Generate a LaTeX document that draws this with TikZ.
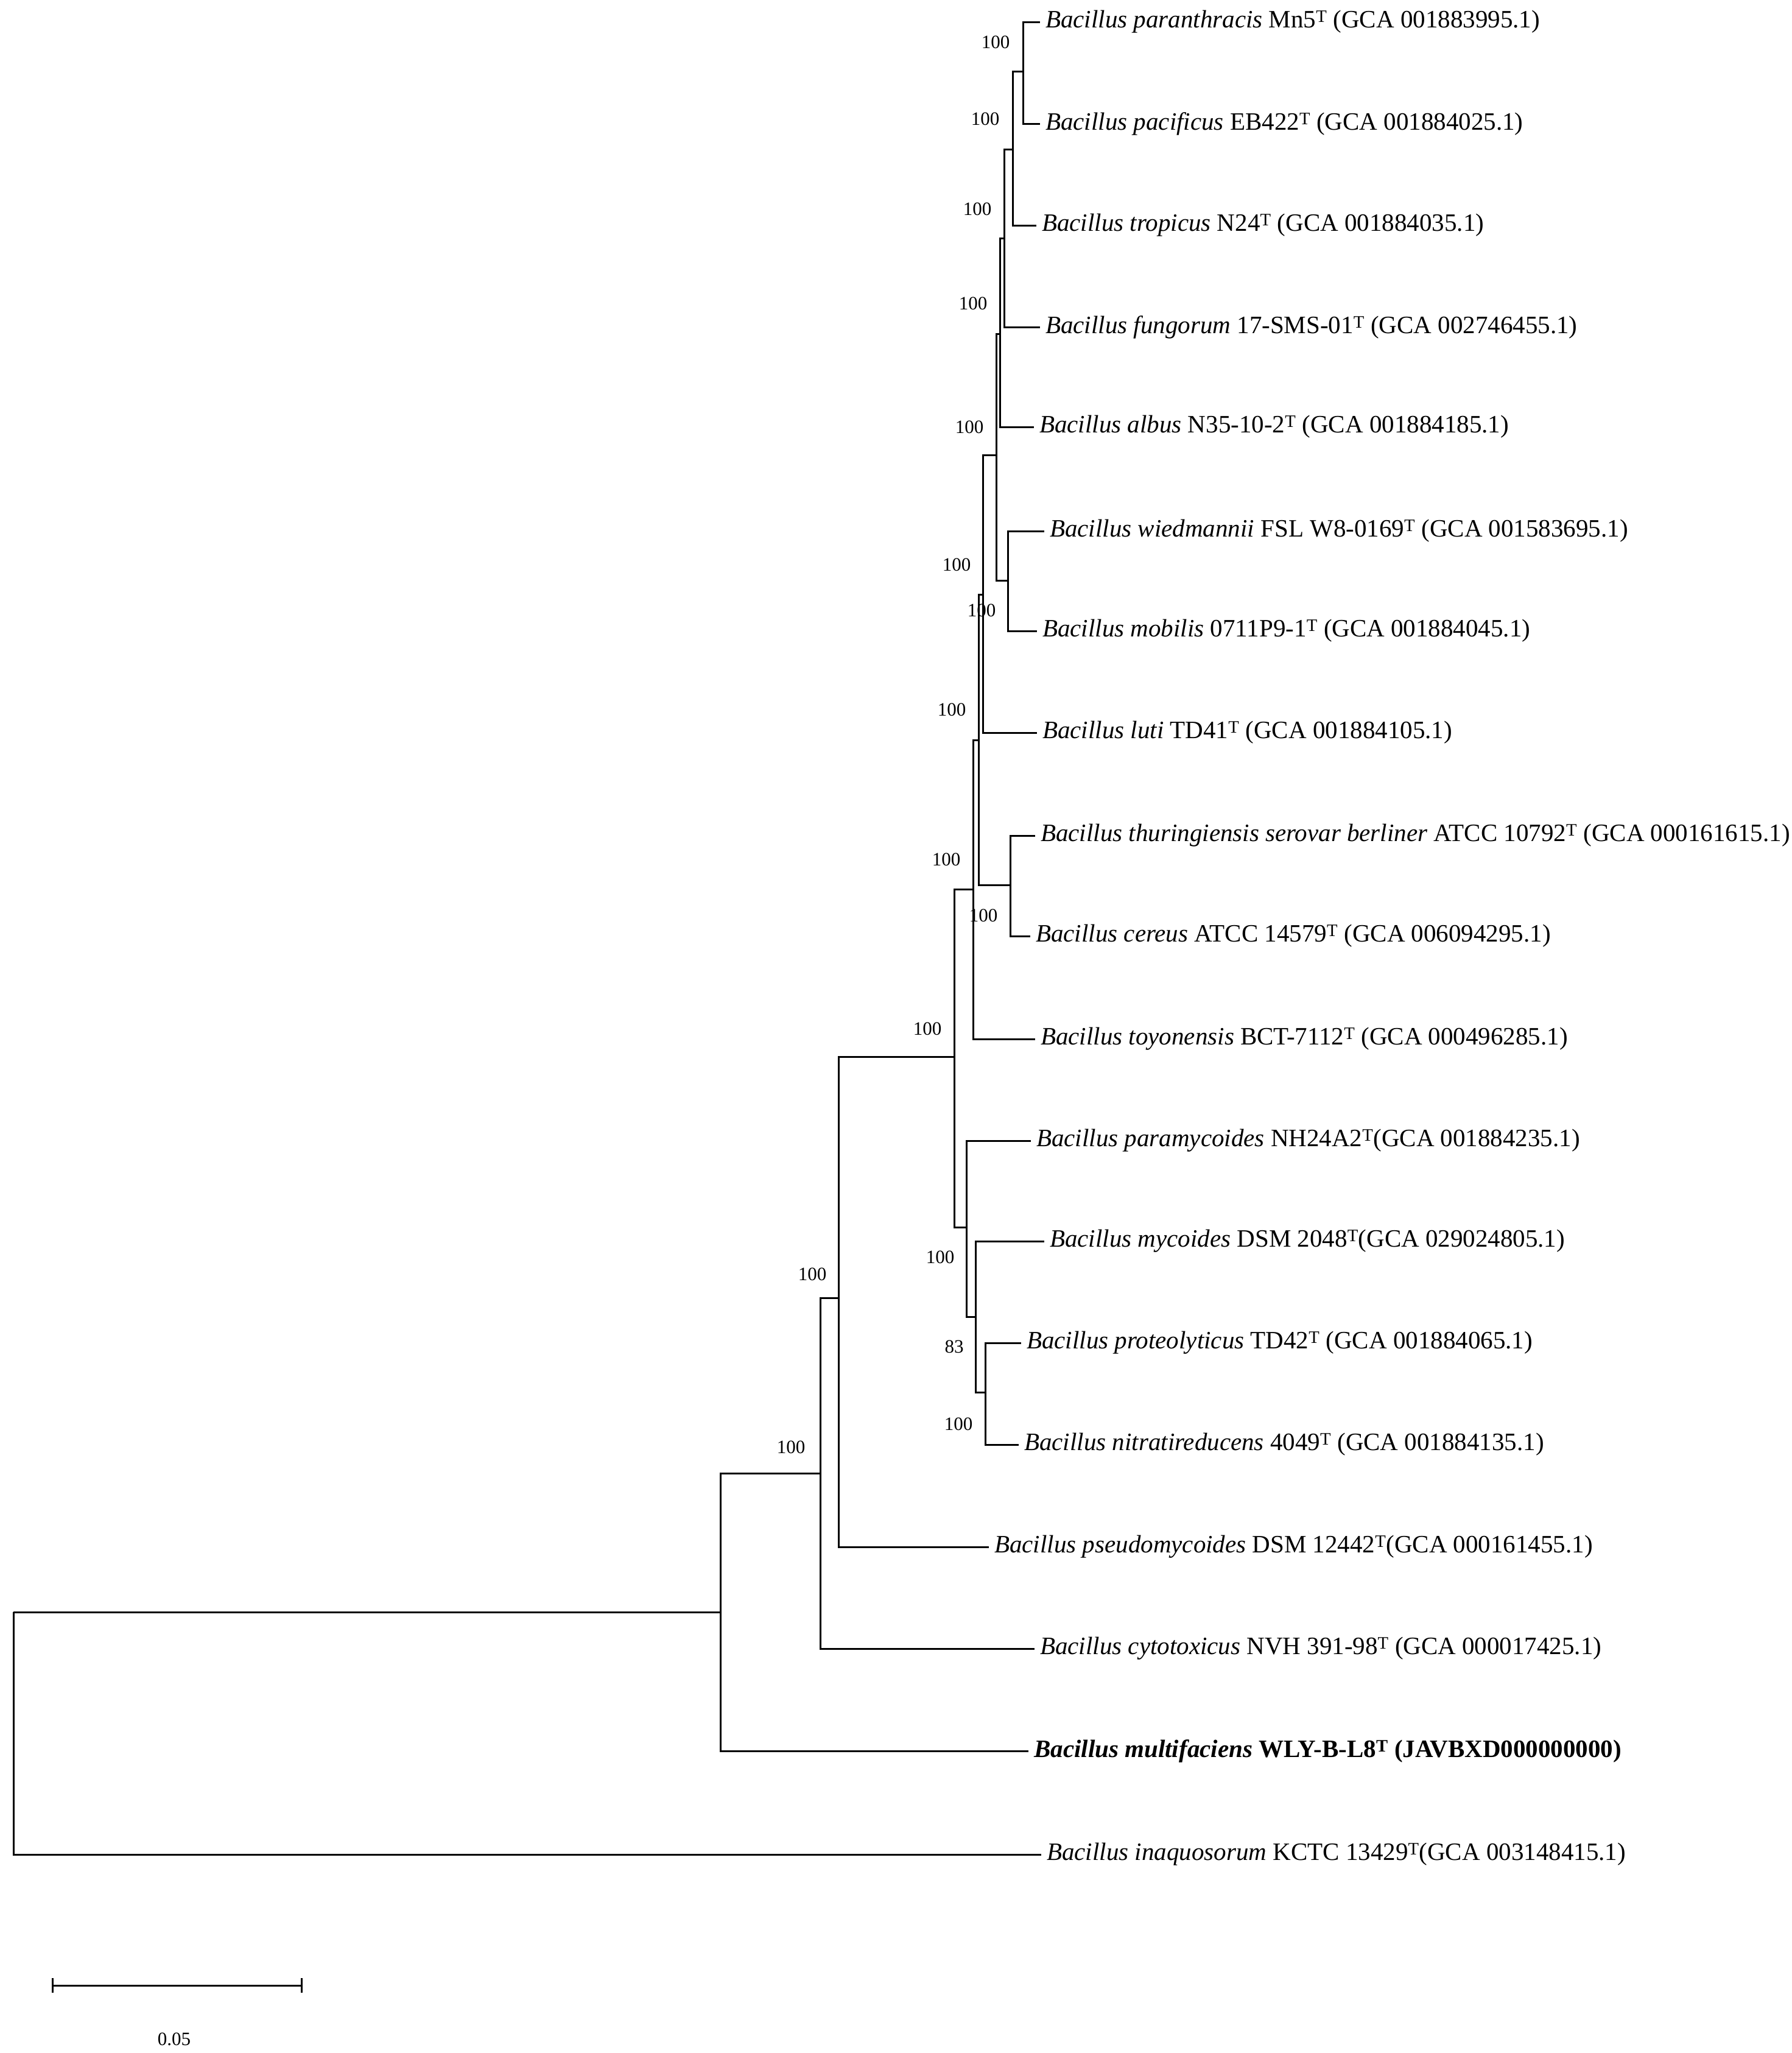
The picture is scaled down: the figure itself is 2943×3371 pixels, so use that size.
\documentclass[tikz,border=0pt]{standalone}
\usepackage{fontspec}
\setmainfont{Liberation Serif}
\begin{document}
\begin{tikzpicture}[x=1pt,y=-1pt,
  br/.style={line width=3pt},
  leaf/.style={anchor=west,inner sep=0pt,xshift=9pt,font=\fontsize{41}{48}\selectfont},
  bs/.style={inner sep=0pt,font=\fontsize{31}{36}\selectfont}]
\useasboundingbox (0,0) rectangle (2943,3371);
% internal nodes
\coordinate (A) at (1680,117);
\coordinate (B) at (1663,245);
\coordinate (C) at (1649,391);
\coordinate (D) at (1642,548);
\coordinate (F) at (1655,953);
\coordinate (E) at (1636,747);
\coordinate (G) at (1614,976);
\coordinate (I) at (1659,1453);
\coordinate (H) at (1607,1215);
\coordinate (J) at (1598,1460);
\coordinate (O) at (1618,2286);
\coordinate (N) at (1602,2162);
\coordinate (M) at (1587,2015);
\coordinate (K) at (1567,1735);
\coordinate (L) at (1377,2131);
\coordinate (P) at (1347,2419);
\coordinate (Q) at (1183,2647);
\coordinate (R) at (22,2647);
% leaves
\coordinate (l1) at (1708,36);
\coordinate (l2) at (1708,203);
\coordinate (l3) at (1702,370);
\coordinate (l4) at (1708,537);
\coordinate (l5) at (1698,701);
\coordinate (l6) at (1715,872);
\coordinate (l7) at (1703,1036);
\coordinate (l8) at (1703,1203);
\coordinate (l9) at (1700,1372);
\coordinate (l10) at (1692,1537);
\coordinate (l11) at (1700,1706);
\coordinate (l12) at (1693,1873);
\coordinate (l13) at (1715,2038);
\coordinate (l14) at (1677,2205);
\coordinate (l15) at (1673,2372);
\coordinate (l16) at (1624,2540);
\coordinate (l17) at (1699,2707);
\coordinate (l18) at (1689,2875);
\coordinate (l19) at (1710,3045);
% labels
\node[leaf] (t1) at (l1) {\textit{Bacillus paranthracis} Mn5\textsuperscript{T} (GCA 001883995.1)};
\node[leaf] (t2) at (l2) {\textit{Bacillus pacificus} EB422\textsuperscript{T} (GCA 001884025.1)};
\node[leaf] (t3) at (l3) {\textit{Bacillus tropicus} N24\textsuperscript{T} (GCA 001884035.1)};
\node[leaf] (t4) at (l4) {\textit{Bacillus fungorum} 17-SMS-01\textsuperscript{T} (GCA 002746455.1)};
\node[leaf] (t5) at (l5) {\textit{Bacillus albus} N35-10-2\textsuperscript{T} (GCA 001884185.1)};
\node[leaf] (t6) at (l6) {\textit{Bacillus wiedmannii} FSL W8-0169\textsuperscript{T} (GCA 001583695.1)};
\node[leaf] (t7) at (l7) {\textit{Bacillus mobilis} 0711P9-1\textsuperscript{T} (GCA 001884045.1)};
\node[leaf] (t8) at (l8) {\textit{Bacillus luti} TD41\textsuperscript{T} (GCA 001884105.1)};
\node[leaf] (t9) at (l9) {\textit{Bacillus thuringiensis serovar berliner} ATCC 10792\textsuperscript{T} (GCA 000161615.1)};
\node[leaf] (t10) at (l10) {\textit{Bacillus cereus} ATCC 14579\textsuperscript{T} (GCA 006094295.1)};
\node[leaf] (t11) at (l11) {\textit{Bacillus toyonensis} BCT-7112\textsuperscript{T} (GCA 000496285.1)};
\node[leaf] (t12) at (l12) {\textit{Bacillus paramycoides} NH24A2\textsuperscript{T}(GCA 001884235.1)};
\node[leaf] (t13) at (l13) {\textit{Bacillus mycoides} DSM 2048\textsuperscript{T}(GCA 029024805.1)};
\node[leaf] (t14) at (l14) {\textit{Bacillus proteolyticus} TD42\textsuperscript{T} (GCA 001884065.1)};
\node[leaf] (t15) at (l15) {\textit{Bacillus nitratireducens} 4049\textsuperscript{T} (GCA 001884135.1)};
\node[leaf] (t16) at (l16) {\textit{Bacillus pseudomycoides} DSM 12442\textsuperscript{T}(GCA 000161455.1)};
\node[leaf] (t17) at (l17) {\textit{Bacillus cytotoxicus} NVH 391-98\textsuperscript{T} (GCA 000017425.1)};
\node[leaf] (t18) at (l18) {\textbf{\textit{Bacillus multifaciens} WLY-B-L8\textsuperscript{T} (JAVBXD000000000)}};
\node[leaf] (t19) at (l19) {\textit{Bacillus inaquosorum} KCTC 13429\textsuperscript{T}(GCA 003148415.1)};
% branches
\draw[br] (A) |- (l1); \draw[br] (A) |- (l2);
\draw[br] (B) |- (A); \draw[br] (B) |- (l3);
\draw[br] (C) |- (B); \draw[br] (C) |- (l4);
\draw[br] (D) |- (C); \draw[br] (D) |- (l5);
\draw[br] (F) |- (l6); \draw[br] (F) |- (l7);
\draw[br] (E) |- (D); \draw[br] (E) |- (F);
\draw[br] (G) |- (E); \draw[br] (G) |- (l8);
\draw[br] (I) |- (l9); \draw[br] (I) |- (l10);
\draw[br] (H) |- (G); \draw[br] (H) |- (I);
\draw[br] (J) |- (H); \draw[br] (J) |- (l11);
\draw[br] (O) |- (l14); \draw[br] (O) |- (l15);
\draw[br] (N) |- (l13); \draw[br] (N) |- (O);
\draw[br] (M) |- (l12); \draw[br] (M) |- (N);
\draw[br] (K) |- (J); \draw[br] (K) |- (M);
\draw[br] (L) |- (K); \draw[br] (L) |- (l16);
\draw[br] (P) |- (L); \draw[br] (P) |- (l17);
\draw[br] (Q) |- (P); \draw[br] (Q) |- (l18);
\draw[br] (R) |- (Q); \draw[br] (R) |- (l19);
% bootstrap values
\node[bs] (b1) at (1635,69) {100};
\node[bs] (b2) at (1618,195) {100};
\node[bs] (b3) at (1605,343) {100};
\node[bs] (b4) at (1598,498) {100};
\node[bs] (b5) at (1592,701) {100};
\node[bs] (b6) at (1571,927) {100};
\node[bs] (b7) at (1612,1002) {100};
\node[bs] (b8) at (1563,1165) {100};
\node[bs] (b9) at (1554,1411) {100};
\node[bs] (b10) at (1615,1503) {100};
\node[bs] (b11) at (1523,1689) {100};
\node[bs] (b12) at (1544,2064) {100};
\node[bs] (b13) at (1567,2211) {83};
\node[bs] (b14) at (1574,2338) {100};
\node[bs] (b15) at (1334,2092) {100};
\node[bs] (b16) at (1299,2376) {100};
% scale bar
\coordinate (s1) at (86,3260);
\coordinate (s2) at (495,3260);
\draw[br] (s1) -- (s2);
\draw[br] ([yshift=-12pt]s1) -- ([yshift=12pt]s1);
\draw[br] ([yshift=-12pt]s2) -- ([yshift=12pt]s2);
\node[bs] (sl) at (286,3348) {0.05};
\end{tikzpicture}
\end{document}
